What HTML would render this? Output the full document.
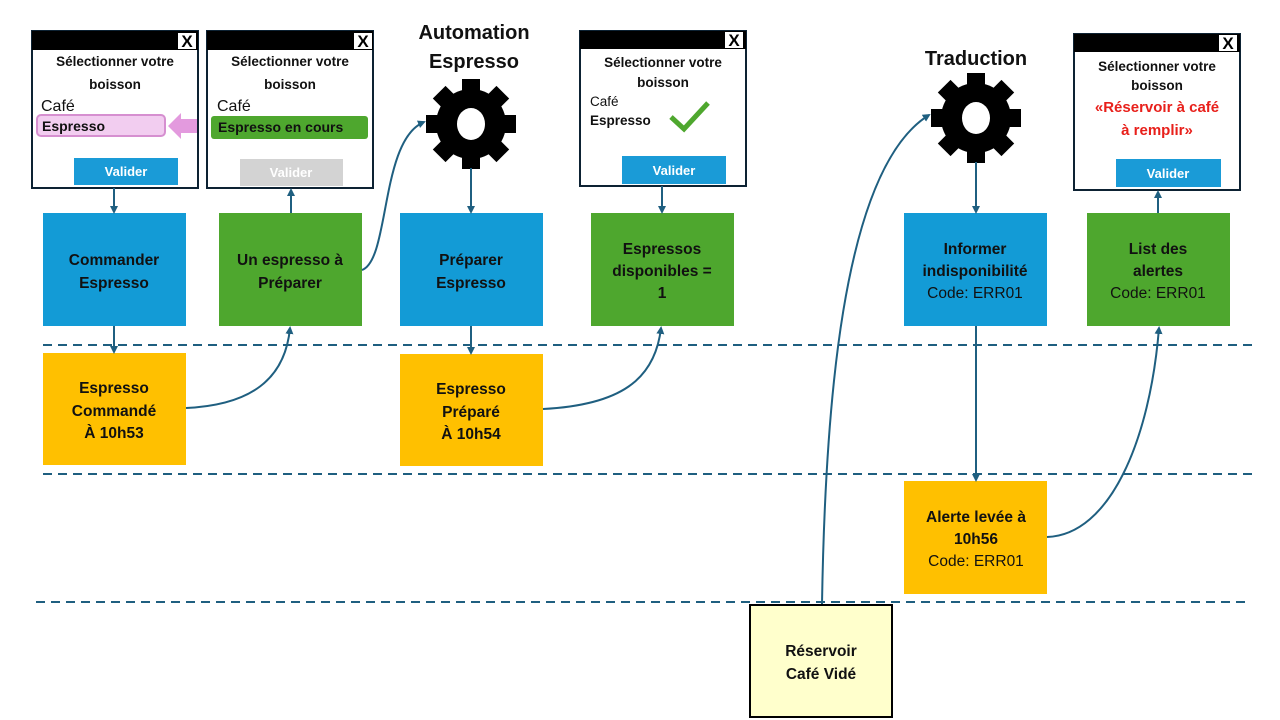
<!DOCTYPE html>
<html><head><meta charset="utf-8"><style>
body{margin:0;background:#fff}
svg{display:block}
text{font-family:"Liberation Sans",sans-serif;fill:#111}
.b{font-weight:bold}
</style></head><body>
<svg width="1280" height="720" viewBox="0 0 1280 720" xmlns="http://www.w3.org/2000/svg">
<defs>
<marker id="a" markerWidth="8" markerHeight="8" refX="6" refY="4" orient="auto" markerUnits="userSpaceOnUse">
<path d="M0,0 L8,4 L0,8 Z" fill="#1f5f80"/></marker>
<g id="gear">
<circle r="35" fill="#000"/>
<rect x="-9" y="-45" width="18" height="20" fill="#000"/>
<rect x="-9" y="-45" width="18" height="20" fill="#000" transform="rotate(45)"/>
<rect x="-9" y="-45" width="18" height="20" fill="#000" transform="rotate(90)"/>
<rect x="-9" y="-45" width="18" height="20" fill="#000" transform="rotate(135)"/>
<rect x="-9" y="-45" width="18" height="20" fill="#000" transform="rotate(180)"/>
<rect x="-9" y="-45" width="18" height="20" fill="#000" transform="rotate(225)"/>
<rect x="-9" y="-45" width="18" height="20" fill="#000" transform="rotate(270)"/>
<rect x="-9" y="-45" width="18" height="20" fill="#000" transform="rotate(315)"/>
<ellipse rx="14" ry="16" fill="#fff"/>
</g>
<g id="xb"><rect x="0" y="0" width="18" height="16" fill="#fff"/><text x="9" y="14" text-anchor="middle" class="b" font-size="17" style="fill:#000">X</text></g>
</defs>

<!-- dashed lanes -->
<g stroke="#1f5f80" stroke-width="2" stroke-dasharray="9,6">
<line x1="43" y1="345" x2="1252" y2="345"/>
<line x1="43" y1="474" x2="1252" y2="474"/>
<line x1="36" y1="602" x2="1245" y2="602"/>
</g>

<!-- Panel 1 -->
<rect x="32" y="31" width="166" height="157" fill="#fff" stroke="#0d2233" stroke-width="2"/>
<rect x="32" y="31" width="166" height="19" fill="#000"/>
<use href="#xb" x="178" y="33"/>
<text x="115" y="66" text-anchor="middle" class="b" font-size="13.5">Sélectionner votre</text>
<text x="115" y="89" text-anchor="middle" class="b" font-size="13.5">boisson</text>
<text x="41" y="111" font-size="16">Café</text>
<rect x="37" y="115" width="128" height="21" rx="4" fill="#f2cdf0" stroke="#d68fd0" stroke-width="2"/>
<text x="42" y="131" class="b" font-size="14">Espresso</text>
<path d="M168,126 L181,113 L181,119 L197,119 L197,133 L181,133 L181,139 Z" fill="#e39ade"/>
<rect x="74" y="158" width="104" height="27" fill="#1a9bd7"/>
<text x="126" y="176" text-anchor="middle" class="b" font-size="13" style="fill:#fff">Valider</text>

<!-- Panel 2 -->
<rect x="207" y="31" width="166" height="157" fill="#fff" stroke="#0d2233" stroke-width="2"/>
<rect x="207" y="31" width="166" height="19" fill="#000"/>
<use href="#xb" x="354" y="33"/>
<text x="290" y="66" text-anchor="middle" class="b" font-size="13.5">Sélectionner votre</text>
<text x="290" y="89" text-anchor="middle" class="b" font-size="13.5">boisson</text>
<text x="217" y="111" font-size="16">Café</text>
<rect x="211" y="116" width="157" height="23" rx="3" fill="#4ea72e"/>
<text x="218" y="132" class="b" font-size="14">Espresso en cours</text>
<rect x="240" y="159" width="103" height="27" fill="#d3d3d3"/>
<text x="291" y="177" text-anchor="middle" class="b" font-size="13" style="fill:#fff">Valider</text>

<!-- Automation -->
<text x="474" y="39" text-anchor="middle" class="b" font-size="20">Automation</text>
<text x="474" y="68" text-anchor="middle" class="b" font-size="20">Espresso</text>
<use href="#gear" x="471" y="124"/>

<!-- Panel 3 -->
<rect x="580" y="31" width="166" height="155" fill="#fff" stroke="#0d2233" stroke-width="2"/>
<rect x="580" y="31" width="166" height="18" fill="#000"/>
<use href="#xb" x="725" y="32"/>
<text x="663" y="67" text-anchor="middle" class="b" font-size="13.5">Sélectionner votre</text>
<text x="663" y="87" text-anchor="middle" class="b" font-size="13.5">boisson</text>
<text x="590" y="106" font-size="13.5">Café</text>
<text x="590" y="125" class="b" font-size="13.5">Espresso</text>
<path d="M671,117 L684,129 L708,103" fill="none" stroke="#4ea72e" stroke-width="5"/>
<rect x="622" y="156" width="104" height="28" fill="#1a9bd7"/>
<text x="674" y="175" text-anchor="middle" class="b" font-size="13" style="fill:#fff">Valider</text>

<!-- Traduction -->
<text x="976" y="65" text-anchor="middle" class="b" font-size="20">Traduction</text>
<use href="#gear" x="976" y="118"/>

<!-- Panel 4 -->
<rect x="1074" y="34" width="166" height="156" fill="#fff" stroke="#0d2233" stroke-width="2"/>
<rect x="1074" y="34" width="166" height="18" fill="#000"/>
<use href="#xb" x="1219" y="35"/>
<text x="1157" y="71" text-anchor="middle" class="b" font-size="13.5">Sélectionner votre</text>
<text x="1157" y="90" text-anchor="middle" class="b" font-size="13.5">boisson</text>
<text x="1157" y="112" text-anchor="middle" class="b" font-size="15" style="fill:#e8201b">«Réservoir à café</text>
<text x="1157" y="135" text-anchor="middle" class="b" font-size="15" style="fill:#e8201b">à remplir»</text>
<rect x="1116" y="159" width="105" height="28" fill="#1a9bd7"/>
<text x="1168" y="178" text-anchor="middle" class="b" font-size="13" style="fill:#fff">Valider</text>

<!-- Process boxes -->
<rect x="43" y="213" width="143" height="113" fill="#139bd6"/>
<text x="114" y="265" text-anchor="middle" class="b" font-size="15.5">Commander</text>
<text x="114" y="288" text-anchor="middle" class="b" font-size="15.5">Espresso</text>

<rect x="219" y="213" width="143" height="113" fill="#4ea72e"/>
<text x="290" y="265" text-anchor="middle" class="b" font-size="15.5">Un espresso à</text>
<text x="290" y="288" text-anchor="middle" class="b" font-size="15.5">Préparer</text>

<rect x="400" y="213" width="143" height="113" fill="#139bd6"/>
<text x="471" y="265" text-anchor="middle" class="b" font-size="15.5">Préparer</text>
<text x="471" y="288" text-anchor="middle" class="b" font-size="15.5">Espresso</text>

<rect x="591" y="213" width="143" height="113" fill="#4ea72e"/>
<text x="662" y="254" text-anchor="middle" class="b" font-size="15.5">Espressos</text>
<text x="662" y="276" text-anchor="middle" class="b" font-size="15.5">disponibles =</text>
<text x="662" y="298" text-anchor="middle" class="b" font-size="15.5">1</text>

<rect x="904" y="213" width="143" height="113" fill="#139bd6"/>
<text x="975" y="254" text-anchor="middle" class="b" font-size="15.5">Informer</text>
<text x="975" y="276" text-anchor="middle" class="b" font-size="15.5">indisponibilité</text>
<text x="975" y="298" text-anchor="middle" font-size="15.5">Code: ERR01</text>

<rect x="1087" y="213" width="143" height="113" fill="#4ea72e"/>
<text x="1158" y="254" text-anchor="middle" class="b" font-size="15.5">List des</text>
<text x="1158" y="276" text-anchor="middle" class="b" font-size="15.5">alertes</text>
<text x="1158" y="298" text-anchor="middle" font-size="15.5">Code: ERR01</text>

<rect x="43" y="353" width="143" height="112" fill="#ffc000"/>
<text x="114" y="393" text-anchor="middle" class="b" font-size="15.5">Espresso</text>
<text x="114" y="416" text-anchor="middle" class="b" font-size="15.5">Commandé</text>
<text x="114" y="438" text-anchor="middle" class="b" font-size="15.5">À 10h53</text>

<rect x="400" y="354" width="143" height="112" fill="#ffc000"/>
<text x="471" y="394" text-anchor="middle" class="b" font-size="15.5">Espresso</text>
<text x="471" y="417" text-anchor="middle" class="b" font-size="15.5">Préparé</text>
<text x="471" y="439" text-anchor="middle" class="b" font-size="15.5">À 10h54</text>

<rect x="904" y="481" width="143" height="113" fill="#ffc000"/>
<text x="976" y="522" text-anchor="middle" class="b" font-size="15.5">Alerte levée à</text>
<text x="976" y="544" text-anchor="middle" class="b" font-size="15.5">10h56</text>
<text x="976" y="566" text-anchor="middle" font-size="15.5">Code: ERR01</text>

<rect x="750" y="605" width="142" height="112" fill="#ffffcc" stroke="#000" stroke-width="2"/>
<text x="821" y="656" text-anchor="middle" class="b" font-size="15.5">Réservoir</text>
<text x="821" y="679" text-anchor="middle" class="b" font-size="15.5">Café Vidé</text>

<!-- connectors -->
<g stroke="#1f5f80" stroke-width="2" fill="none" marker-end="url(#a)">
<line x1="114" y1="188" x2="114" y2="212"/>
<line x1="291" y1="213" x2="291" y2="190"/>
<line x1="471" y1="168" x2="471" y2="212"/>
<line x1="662" y1="186" x2="662" y2="212"/>
<line x1="976" y1="162" x2="976" y2="212"/>
<line x1="1158" y1="213" x2="1158" y2="192"/>
<line x1="114" y1="326" x2="114" y2="352"/>
<line x1="471" y1="326" x2="471" y2="353"/>
<line x1="976" y1="326" x2="976" y2="480"/>
<path d="M186,408 C250,405 285,380 290,328"/>
<path d="M543,409 C620,405 655,380 661,328"/>
<path d="M1047,537 C1110,535 1150,440 1159,328"/>
<path d="M362,270 C390,260 380,140 424,122"/>
<path d="M822,604 C825,420 840,170 929,115"/>
</g>
</svg>
</body></html>
